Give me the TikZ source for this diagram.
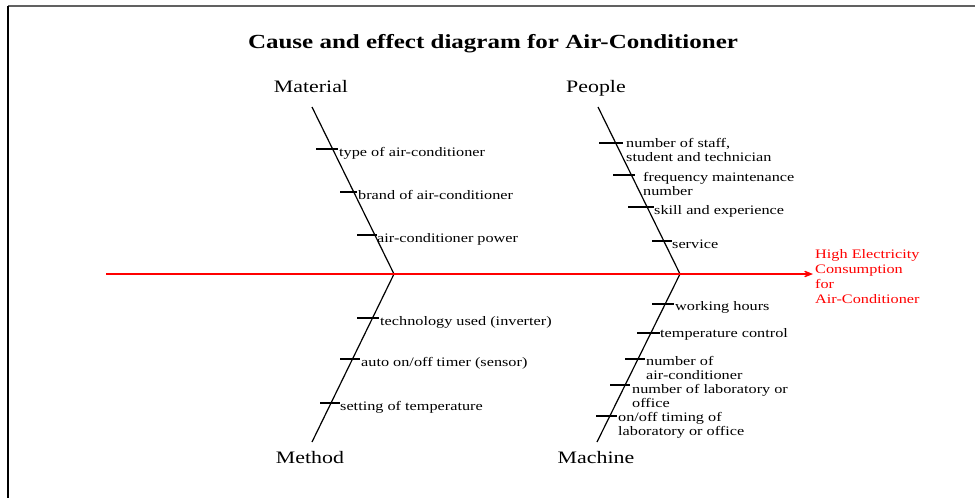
\documentclass[tikz,border=0pt]{standalone}
\usepackage{fontspec}
\setmainfont{Liberation Serif}[FakeStretch=1.25]
\usetikzlibrary{arrows.meta}
\begin{document}
\begin{tikzpicture}[x=1pt,y=-1pt,
  bone/.style={line width=1.2pt,black},
  rib/.style={line width=1.1pt,black},
  spine/.style={line width=1.2pt,red,-{Stealth[length=15pt,width=12pt,inset=10pt]}},
  lbl/.style={anchor=base west,inner sep=0pt,font=\fontsize{13}{14.5}\selectfont},
  mlbl/.style={anchor=north west,inner sep=0pt,align=left,font=\fontsize{13}{14.5}\selectfont},
  cat/.style={anchor=base,inner sep=0pt,font=\fontsize{17.5}{20}\selectfont},
  effect/.style={anchor=north west,inner sep=0pt,align=left,text=red,font=\fontsize{13}{15}\selectfont}]
\useasboundingbox (0,0) rectangle (975,498);
\fill[white] (0,0) rectangle (975,498);
% frame
\coordinate (f0) at (8,6);
\coordinate (f1) at (976,6);
\coordinate (f2) at (8,499);
\draw[line width=2pt,black!62] (f0) -- (f1);
\draw[line width=1.5pt,black] (f0) -- (f2);
% title
\node[anchor=base,inner sep=0pt,font=\fontsize{20}{24}\selectfont\bfseries] (title) at (493,48) {Cause and effect diagram for Air-Conditioner};
% categories
\node[cat] (material) at (311,92) {Material};
\node[cat] (people) at (596,92) {People};
\node[cat] (method) at (310,463) {Method};
\node[cat] (machine) at (596,463) {Machine};
% bones
\coordinate (mt) at (312,107);
\coordinate (j1) at (394,274);
\coordinate (mb) at (312,442);
\coordinate (pt) at (598,107);
\coordinate (j2) at (680,274);
\coordinate (pb) at (597,442);
\coordinate (tail) at (106,274);
\coordinate (tip) at (813,274);
\draw[bone] (mt) -- (j1) -- (mb);
\draw[bone] (pt) -- (j2) -- (pb);
\draw[spine] (tail) -- (tip);
% effect
\node[effect] (eff) at (815,249) {High Electricity\\Consumption\\for\\Air-Conditioner};
% Material ribs
\coordinate (a1) at (316,149); \coordinate (a1e) at (338,149);
\coordinate (a2) at (340,192); \coordinate (a2e) at (357,192);
\coordinate (a3) at (357,235); \coordinate (a3e) at (377,235);
\draw[rib] (a1) -- (a1e); \draw[rib] (a2) -- (a2e); \draw[rib] (a3) -- (a3e);
\node[lbl] (ta1) at (339,156) {type of air-conditioner};
\node[lbl] (ta2) at (358,199) {brand of air-conditioner};
\node[lbl] (ta3) at (377,242) {air-conditioner power};
% Method ribs
\coordinate (b1) at (357,318); \coordinate (b1e) at (379,318);
\coordinate (b2) at (340,359); \coordinate (b2e) at (360,359);
\coordinate (b3) at (320,403); \coordinate (b3e) at (340,403);
\draw[rib] (b1) -- (b1e); \draw[rib] (b2) -- (b2e); \draw[rib] (b3) -- (b3e);
\node[lbl] (tb1) at (380,325) {technology used (inverter)};
\node[lbl] (tb2) at (361,366) {auto on/off timer (sensor)};
\node[lbl] (tb3) at (340,410) {setting of temperature};
% People ribs
\coordinate (c1) at (599,143); \coordinate (c1e) at (623,143);
\coordinate (c2) at (613,175); \coordinate (c2e) at (635,175);
\coordinate (c3) at (628,207); \coordinate (c3e) at (654,207);
\coordinate (c4) at (652,241); \coordinate (c4e) at (672,241);
\draw[rib] (c1) -- (c1e); \draw[rib] (c2) -- (c2e); \draw[rib] (c3) -- (c3e); \draw[rib] (c4) -- (c4e);
\node[mlbl] (tc1) at (626,138) {number of staff,\\student and technician};
\node[mlbl] (tc2) at (643,172) {frequency maintenance\\number};
\node[lbl] (tc3) at (654,214) {skill and experience};
\node[lbl] (tc4) at (672,248) {service};
% Machine ribs
\coordinate (d1) at (652,304); \coordinate (d1e) at (674,304);
\coordinate (d2) at (637,333); \coordinate (d2e) at (660,333);
\coordinate (d3) at (625,359); \coordinate (d3e) at (645,359);
\coordinate (d4) at (610,385); \coordinate (d4e) at (630,385);
\coordinate (d5) at (596,416); \coordinate (d5e) at (617,416);
\draw[rib] (d1) -- (d1e); \draw[rib] (d2) -- (d2e); \draw[rib] (d3) -- (d3e);
\draw[rib] (d4) -- (d4e); \draw[rib] (d5) -- (d5e);
\node[lbl] (td1) at (675,310) {working hours};
\node[lbl] (td2) at (660,337) {temperature control};
\node[mlbl] (td3) at (646,356) {number of\\air-conditioner};
\node[mlbl] (td4) at (632,384) {number of laboratory or\\office};
\node[mlbl] (td5) at (618,412) {on/off timing of\\laboratory or office};
\end{tikzpicture}
\end{document}
